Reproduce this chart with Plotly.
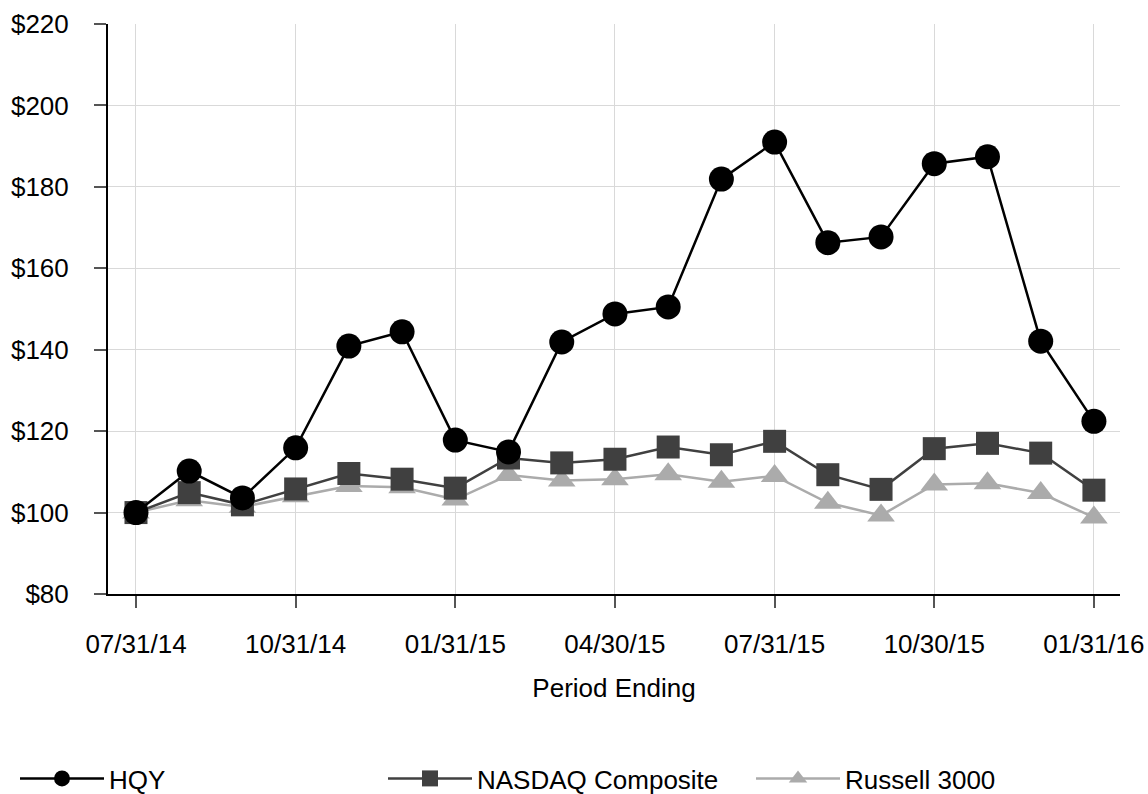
import plotly.graph_objects as go

periods = ["07/31/14", "08/31/14", "09/30/14", "10/31/14", "11/30/14", "12/31/14",
           "01/31/15", "02/28/15", "03/31/15", "04/30/15", "05/31/15", "06/30/15",
           "07/31/15", "08/31/15", "09/30/15", "10/30/15", "11/30/15", "12/31/15",
           "01/31/16"]
tick_labels = ["07/31/14", "10/31/14", "01/31/15", "04/30/15", "07/31/15", "10/30/15", "01/31/16"]

hqy = [100, 110.2, 103.6, 115.9, 140.9, 144.4, 117.8, 114.9, 141.9, 148.8, 150.5,
       181.9, 191.0, 166.3, 167.7, 185.7, 187.4, 142.1, 122.4]
nasdaq = [100, 104.9, 101.9, 105.8, 109.6, 108.2, 106.0, 113.4, 112.2, 113.1, 116.1,
          114.2, 117.5, 109.3, 105.7, 115.7, 117.0, 114.6, 105.5]
russell = [100, 103.0, 101.4, 104.0, 106.5, 106.2, 103.2, 109.2, 107.9, 108.2, 109.4,
           107.6, 109.0, 102.4, 99.3, 106.9, 107.2, 104.8, 98.8]

FONT = "Liberation Sans, Arial, sans-serif"
FS = 26

fig = go.Figure()
fig.add_trace(go.Scatter(x=periods, y=russell, name="Russell 3000", mode="lines+markers",
                         line=dict(color="#ababab", width=2.5),
                         marker=dict(symbol="triangle-up", size=24, color="#ababab"),
                         legend="legend3"))
fig.add_trace(go.Scatter(x=periods, y=nasdaq, name="NASDAQ Composite", mode="lines+markers",
                         line=dict(color="#404040", width=2.5),
                         marker=dict(symbol="square", size=23, color="#404040"),
                         legend="legend2"))
fig.add_trace(go.Scatter(x=periods, y=hqy, name="HQY", mode="lines+markers",
                         line=dict(color="#000000", width=2.5),
                         marker=dict(symbol="circle", size=25, color="#000000"),
                         legend="legend"))

PL, PT, PR, PB = 108, 24, 28, 200
W, H = 1148, 794
PW = W - PL - PR
PH = H - PT - PB
IW = 84

leg_common = dict(orientation="h", yanchor="bottom", y=-(PB + 8) / PH, xanchor="left",
                  itemwidth=IW, borderwidth=0,
                  font=dict(family=FONT, size=FS, color="#000"), bgcolor="rgba(0,0,0,0)")

def leg_x(center_px):
    return (center_px - 7 - IW / 2 - PL) / PW

fig.update_layout(
    width=W, height=H,
    margin=dict(l=PL, r=PR, t=PT, b=PB, autoexpand=False),
    paper_bgcolor="white", plot_bgcolor="white",
    font=dict(family=FONT, size=FS, color="#000"),
    showlegend=True,
    legend=dict(x=leg_x(64), **leg_common),
    legend2=dict(x=leg_x(432), **leg_common),
    legend3=dict(x=leg_x(800), **leg_common),
    xaxis=dict(type="category", categoryorder="array", categoryarray=periods,
               range=[-0.526, 18.49], tickmode="array", tickvals=tick_labels,
               ticktext=tick_labels, showgrid=True, gridcolor="#d9d9d9", gridwidth=1,
               showline=True, linecolor="#000", linewidth=2,
               ticks="outside", ticklen=12, tickcolor="#555", tickwidth=1.5,
               ticklabelstandoff=14,
               tickfont=dict(family=FONT, size=FS, color="#000"),
               title=dict(text="Period Ending", font=dict(family=FONT, size=FS, color="#000"),
                          standoff=21),
               zeroline=False),
    yaxis=dict(range=[80, 220], dtick=20, tick0=80, tickprefix="$",
               showgrid=True, gridcolor="#d9d9d9", gridwidth=1,
               showline=True, linecolor="#000", linewidth=2,
               ticks="outside", ticklen=12, tickcolor="#555", tickwidth=1.5,
               ticklabelstandoff=20,
               tickfont=dict(family=FONT, size=FS, color="#000"),
               zeroline=False),
)

fig.write_html("out.html", config={"displayModeBar": False},
               post_script="document.body.style.margin='0';document.body.style.overflow='hidden';")
